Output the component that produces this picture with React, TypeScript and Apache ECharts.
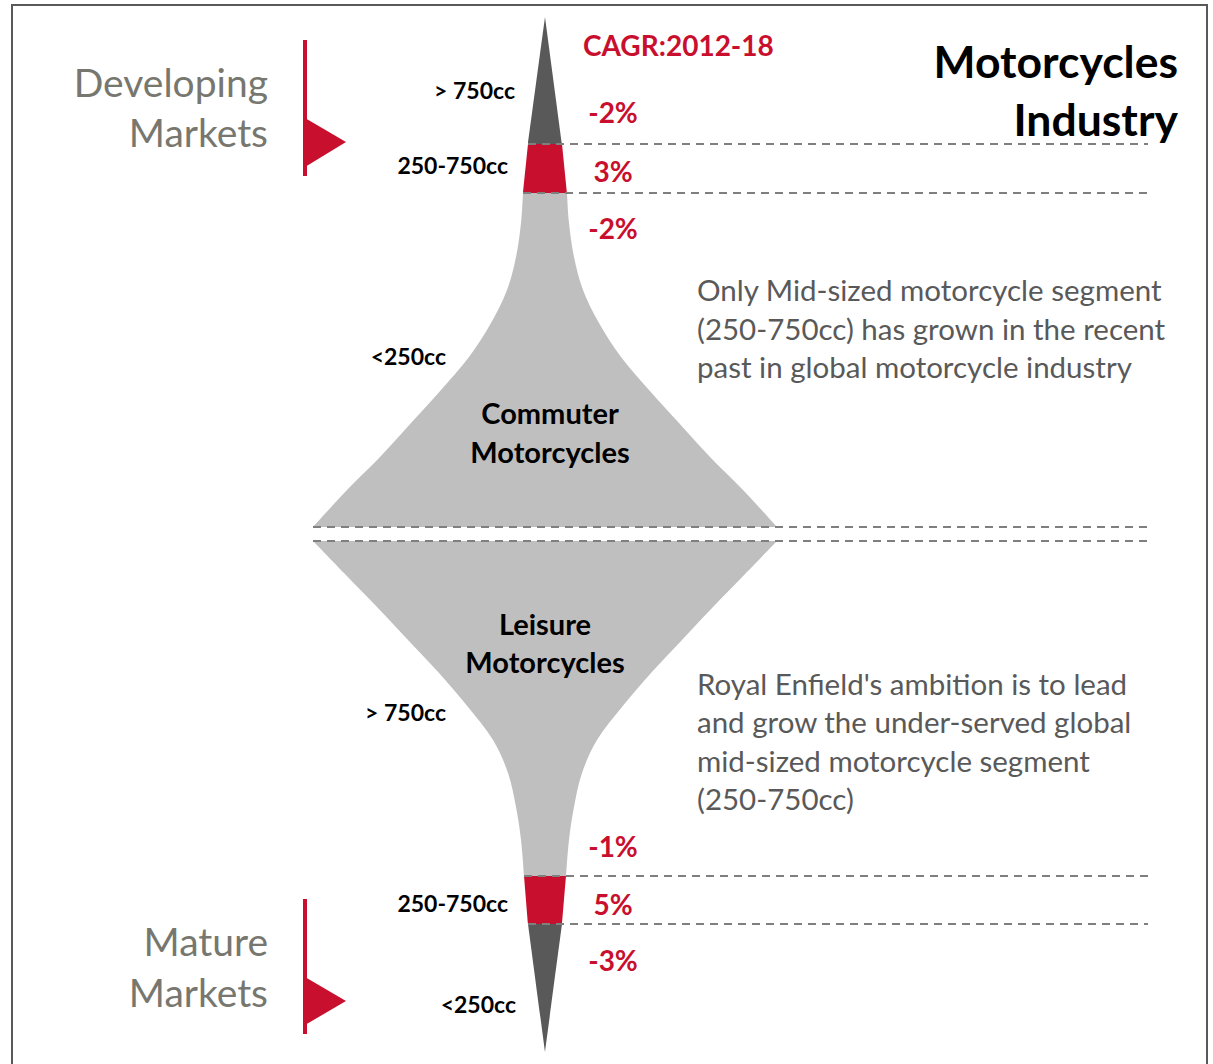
import React, { useEffect, useRef } from "react";
import * as echarts from "echarts";

// ---- Data ----
// Each profile: [depth from top, half-width] pairs, top to bottom.
const devOver750Profile = [[17, 0], [144, 17]];
const devMidProfile = [[144, 17], [193, 22]];
const commuterProfile = [
  [193, 22], [223, 24], [257, 29], [290, 38], [323, 54], [357, 76],
  [390, 104], [423, 134], [457, 165], [490, 198], [527, 232],
];
const leisureProfile = [
  [541, 232], [573, 201], [607, 168], [640, 137], [673, 106], [707, 77],
  [740, 52], [773, 37], [807, 29], [840, 24], [876, 21],
];
const matureMidProfile = [[876, 21], [924, 17]];
const matureUnder250Profile = [[924, 17], [1052, 0]];

const segmentProfiles = [
  devOver750Profile, devMidProfile, commuterProfile,
  leisureProfile, matureMidProfile, matureUnder250Profile,
];
const segmentLabels = ["> 750cc", "250-750cc", "<250cc", "> 750cc", "250-750cc", "<250cc"];
const cagrTitle = "CAGR:2012-18";
const cagrValues = ["-2%", "3%", "-2%", "-1%", "5%", "-3%"];
const groupLabels = ["Commuter\nMotorcycles", "Leisure\nMotorcycles"];
const marketLabels = ["Developing\nMarkets", "Mature\nMarkets"];
const titleText = "Motorcycles\nIndustry";
const notes = [
  "Only Mid-sized motorcycle segment\n(250-750cc) has grown in the recent\npast in global motorcycle industry",
  "Royal Enfield's ambition is to lead\nand grow the under-served global\nmid-sized motorcycle segment\n(250-750cc)",
];

// ---- Styles ----
const DARK = "#595959";
const RED = "#C8102E";
const LIGHT = "#BFBFBF";
const segmentColors = [DARK, RED, LIGHT, LIGHT, RED, DARK];
const FONT = "Lato";
const LINE_END = 603;

function spline(ctx: any, P: number[][]) {
  const n = P.length;
  for (let i = 0; i < n - 1; i++) {
    const p0 = P[Math.max(i - 1, 0)];
    const p1 = P[i];
    const p2 = P[i + 1];
    const p3 = P[Math.min(i + 2, n - 1)];
    ctx.bezierCurveTo(
      p1[0] + (p2[0] - p0[0]) / 6, p1[1] + (p2[1] - p0[1]) / 6,
      p2[0] - (p3[0] - p1[0]) / 6, p2[1] - (p3[1] - p1[1]) / 6,
      p2[0], p2[1]
    );
  }
}

const FunnelSeg = (echarts as any).graphic.extendShape({
  type: "funnelSeg",
  shape: { left: [], right: [] },
  buildPath(ctx: any, shape: any) {
    const L = shape.left;
    const R = shape.right.slice().reverse();
    if (!L.length) return;
    ctx.moveTo(L[0][0], L[0][1]);
    spline(ctx, L);
    ctx.lineTo(R[0][0], R[0][1]);
    spline(ctx, R);
    ctx.closePath();
  },
});
(echarts as any).graphic.registerShape("funnelSeg", FunnelSeg);

export default function App() {
  const ref = useRef<HTMLDivElement>(null);
  useEffect(() => {
    if (!ref.current) return;
    const chart = echarts.init(ref.current, undefined, { renderer: "svg" });

    // boundary levels (dashed lines)
    const levels: number[][] = [];
    segmentProfiles.forEach((p, i) => {
      if (i > 0) levels.push(p[0]);
      if (i < segmentProfiles.length - 1) levels.push(p[p.length - 1]);
    });
    const uniq: number[][] = [];
    levels.forEach((l) => {
      if (!uniq.find((u) => u[0] === l[0])) uniq.push(l);
    });
    const lineSeries = uniq.map((l) => ({
      type: "line",
      data: [[-l[1], l[0]], [LINE_END, l[0]]],
      symbol: "none",
      silent: true,
      z: 5,
      lineStyle: { color: "#7f7f7f", width: 2, type: [8, 6] },
    }));

    const txt = (x: number, y: number, text: string, o: any) => ({
      type: "text",
      x,
      y,
      z: 10,
      style: {
        text,
        fontFamily: FONT,
        verticalAlign: "middle",
        ...o,
      },
    });

    const cagrPos = [112, 171, 228, 846, 904, 960];
    const labelPos = [
      [515, 90], [508, 165], [446, 356], [446, 712], [508, 903], [516, 1004],
    ];

    const graphic: any[] = [
      {
        type: "rect",
        shape: { x: 12, y: 5, width: 1195, height: 1075 },
        style: { fill: "none", stroke: "#595959", lineWidth: 2 },
      },
      { type: "rect", shape: { x: 303, y: 40, width: 4, height: 136 }, style: { fill: RED } },
      { type: "polygon", shape: { points: [[305, 118], [346, 142], [305, 167]] }, style: { fill: RED } },
      { type: "rect", shape: { x: 303, y: 899, width: 4, height: 135 }, style: { fill: RED } },
      { type: "polygon", shape: { points: [[305, 977], [346, 1001], [305, 1025]] }, style: { fill: RED } },
      txt(268, 107, marketLabels[0], { align: "right", fontSize: 39, lineHeight: 50, fill: "#77776f" }),
      txt(268, 966, marketLabels[1], { align: "right", fontSize: 39, lineHeight: 51, fill: "#77776f" }),
      txt(1178, 89, titleText, { align: "right", fontSize: 44.5, fontWeight: "bold", lineHeight: 58, fill: "#000" }),
      txt(583, 45, cagrTitle, { align: "left", fontSize: 28, fontWeight: "bold", fill: RED }),
      txt(550, 432, groupLabels[0], { align: "center", fontSize: 29, fontWeight: "bold", lineHeight: 39, fill: "#000" }),
      txt(545, 642, groupLabels[1], { align: "center", fontSize: 29, fontWeight: "bold", lineHeight: 38, fill: "#000" }),
      txt(697, 328, notes[0], { align: "left", fontSize: 29.5, lineHeight: 38.5, fill: DARK }),
      txt(697, 741, notes[1], { align: "left", fontSize: 29.5, lineHeight: 38.5, fill: DARK }),
      ...cagrValues.map((v, i) =>
        txt(613, cagrPos[i], v, { align: "center", fontSize: 28, fontWeight: "bold", fill: RED })
      ),
      ...segmentLabels.map((v, i) =>
        txt(labelPos[i][0], labelPos[i][1], v, { align: "right", fontSize: 23, fontWeight: "bold", fill: "#000" })
      ),
    ];

    chart.setOption({
      animation: false,
      backgroundColor: "#ffffff",
      grid: { left: 0, right: 0, top: 0, bottom: 0 },
      xAxis: { type: "value", min: -545, max: 668, show: false },
      yAxis: { type: "value", min: 0, max: 1064, inverse: true, show: false },
      series: [
        {
          type: "custom",
          clip: false,
          silent: true,
          z: 2,
          data: segmentProfiles.map((p, i) => [i, p[0][0]]),
          renderItem: (params: any, api: any) => {
            const prof = segmentProfiles[params.dataIndex];
            const left = prof.map(([d, hw]) => api.coord([-hw, d]));
            const right = prof.map(([d, hw]) => api.coord([hw, d]));
            return {
              type: "funnelSeg",
              shape: { left, right },
              style: { fill: segmentColors[params.dataIndex] },
            };
          },
        },
        ...lineSeries,
      ],
      graphic,
    });
    return () => chart.dispose();
  }, []);
  return (
    <div
      ref={ref}
      style={{ position: "absolute", left: 0, top: 0, width: 1213, height: 1064 }}
    />
  );
}
